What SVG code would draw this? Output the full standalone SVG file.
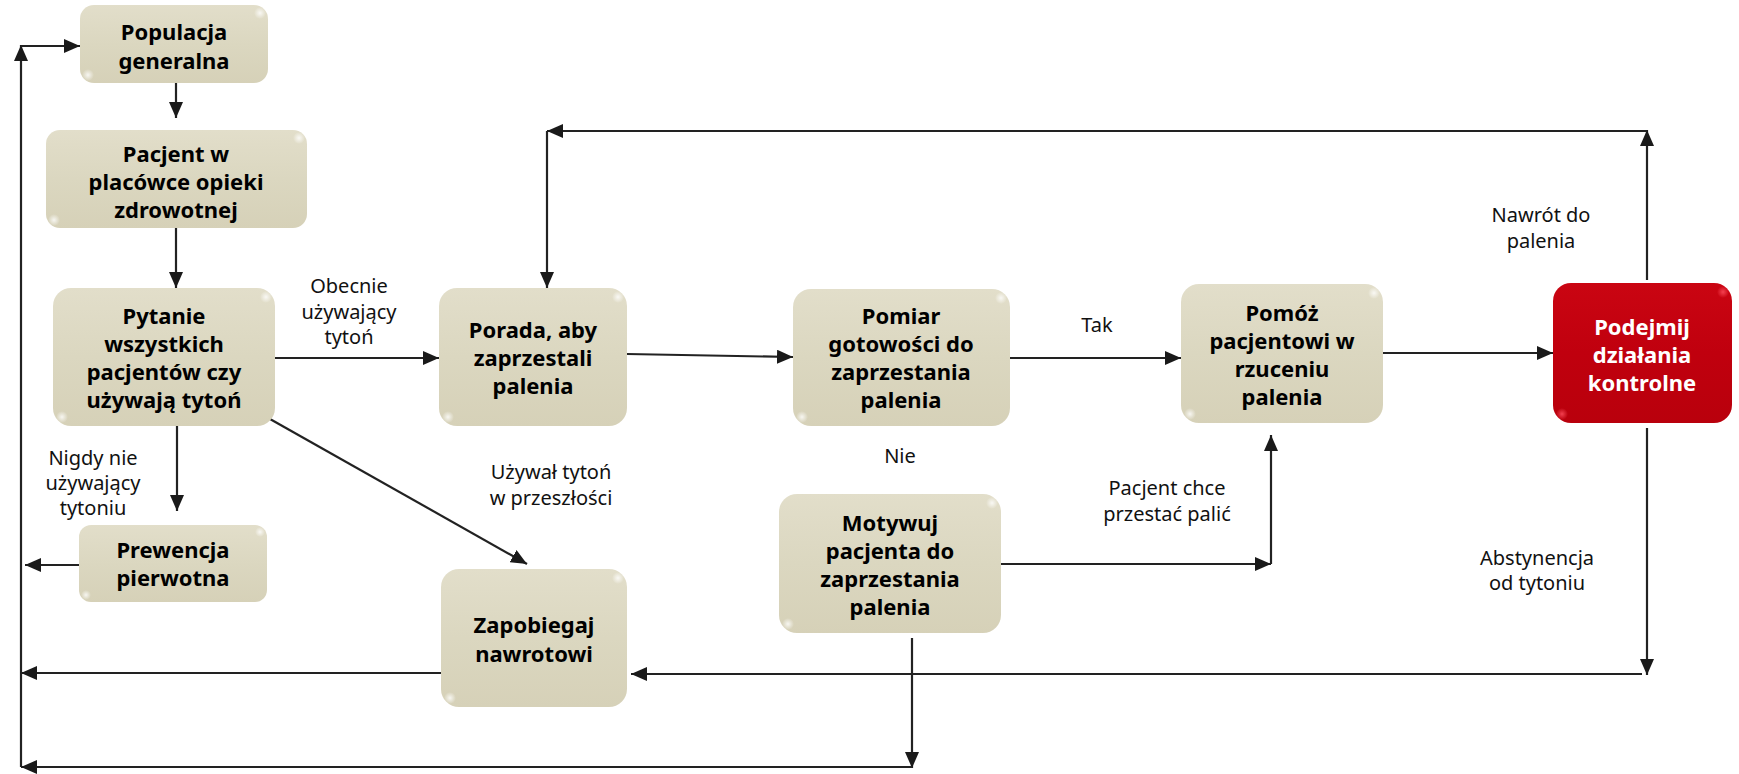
<svg xmlns="http://www.w3.org/2000/svg" width="1739" height="774" viewBox="0 0 1739 774">
<style>
.bx{fill:url(#beige);}
.rd{fill:url(#red);}
.hl{fill:url(#glow);}
.hr{fill:url(#glowr);}
.t{font-family:"Noto Sans","Open Sans",sans-serif;font-weight:bold;font-size:22px;fill:#000;text-anchor:middle;}
.tw{fill:#fff;}
.lb{font-family:"Noto Sans","Open Sans",sans-serif;font-size:20px;fill:#111;text-anchor:middle;}
.c line,.c polyline{stroke:#222;stroke-width:2.2;fill:none;}
.a{marker-end:url(#ah);}
</style>
<defs>
<linearGradient id="beige" x1="0" y1="0" x2="0" y2="1">
<stop offset="0" stop-color="#E2DECA"/>
<stop offset="0.5" stop-color="#DBD7C0"/>
<stop offset="1" stop-color="#D6D1B8"/>
</linearGradient>
<linearGradient id="red" x1="0" y1="0" x2="0" y2="1">
<stop offset="0" stop-color="#CA0512"/>
<stop offset="0.5" stop-color="#C0000E"/>
<stop offset="1" stop-color="#B9000C"/>
</linearGradient>
<radialGradient id="glow">
<stop offset="0" stop-color="#FFFFFF" stop-opacity="0.8"/>
<stop offset="1" stop-color="#FFFFFF" stop-opacity="0"/>
</radialGradient>
<radialGradient id="glowr">
<stop offset="0" stop-color="#FF5060" stop-opacity="0.8"/>
<stop offset="1" stop-color="#FF5060" stop-opacity="0"/>
</radialGradient>
<marker id="ah" markerUnits="userSpaceOnUse" markerWidth="16" markerHeight="14" refX="16" refY="7" orient="auto">
<path d="M0,0 L16,7 L0,14 z" fill="#1a1a1a"/>
</marker>
</defs>

<g id="connectors" class="c">
<line class="a" x1="176" y1="83" x2="176" y2="118"/>
<line class="a" x1="176" y1="228" x2="176" y2="288"/>
<line class="a" x1="275" y1="358" x2="439" y2="358"/>
<line class="a" x1="177" y1="426" x2="177" y2="511"/>
<line class="a" x1="270" y1="419" x2="527" y2="564"/>
<line class="a" x1="79" y1="565" x2="25" y2="565"/>
<line class="a" x1="627" y1="354" x2="793" y2="357"/>
<line class="a" x1="1010" y1="358" x2="1181" y2="358"/>
<line class="a" x1="1383" y1="353" x2="1553" y2="353"/>
<line class="a" x1="1647" y1="280" x2="1647" y2="130"/>
<line class="a" x1="1647" y1="131" x2="547" y2="131"/>
<line class="a" x1="547" y1="131" x2="547" y2="288"/>
<line class="a" x1="1647" y1="428" x2="1647" y2="675"/>
<line class="a" x1="1642" y1="674" x2="631" y2="674"/>
<line class="a" x1="441" y1="673" x2="21" y2="673"/>
<line class="a" x1="1001" y1="564" x2="1271" y2="564"/>
<line class="a" x1="1271" y1="564" x2="1271" y2="435"/>
<line class="a" x1="912" y1="638" x2="912" y2="768"/>
<line class="a" x1="912" y1="767" x2="21" y2="767"/>
<line class="a" x1="21" y1="767" x2="21" y2="45"/>
<line class="a" x1="21" y1="46" x2="80" y2="46"/>
</g>

<g id="populacja">
<rect class="bx" x="80" y="5" width="188" height="78" rx="14"/>
<circle class="hl" cx="260" cy="13" r="6"/><circle class="hl" cx="88" cy="75" r="6"/>
<text class="t"><tspan x="174" y="40">Populacja</tspan><tspan x="174" y="69">generalna</tspan></text>
</g>

<g id="pacjent">
<rect class="bx" x="46" y="130" width="261" height="98" rx="14"/>
<circle class="hl" cx="299" cy="138" r="6"/><circle class="hl" cx="54" cy="220" r="6"/>
<text class="t"><tspan x="176" y="162">Pacjent w</tspan><tspan x="176" y="190">placówce opieki</tspan><tspan x="176" y="218">zdrowotnej</tspan></text>
</g>

<g id="pytanie">
<rect class="bx" x="53" y="288" width="222" height="138" rx="18"/>
<circle class="hl" cx="266" cy="297" r="6"/><circle class="hl" cx="62" cy="417" r="6"/>
<text class="t"><tspan x="164" y="324">Pytanie</tspan><tspan x="164" y="352">wszystkich</tspan><tspan x="164" y="380">pacjentów czy</tspan><tspan x="164" y="408">używają tytoń</tspan></text>
</g>

<g id="prewencja">
<rect class="bx" x="79" y="525" width="188" height="77" rx="12"/>
<circle class="hl" cx="260" cy="532" r="5"/><circle class="hl" cx="86" cy="595" r="5"/>
<text class="t"><tspan x="173" y="558">Prewencja</tspan><tspan x="173" y="586">pierwotna</tspan></text>
</g>

<g id="porada">
<rect class="bx" x="439" y="288" width="188" height="138" rx="18"/>
<circle class="hl" cx="618" cy="297" r="6"/><circle class="hl" cx="448" cy="417" r="6"/>
<text class="t"><tspan x="533" y="338">Porada, aby</tspan><tspan x="533" y="366">zaprzestali</tspan><tspan x="533" y="394">palenia</tspan></text>
</g>

<g id="zapobiegaj">
<rect class="bx" x="441" y="569" width="186" height="138" rx="18"/>
<circle class="hl" cx="618" cy="578" r="6"/><circle class="hl" cx="450" cy="698" r="6"/>
<text class="t"><tspan x="534" y="633">Zapobiegaj</tspan><tspan x="534" y="662">nawrotowi</tspan></text>
</g>

<g id="pomiar">
<rect class="bx" x="793" y="289" width="217" height="137" rx="18"/>
<circle class="hl" cx="1001" cy="298" r="6"/><circle class="hl" cx="802" cy="417" r="6"/>
<text class="t"><tspan x="901" y="324">Pomiar</tspan><tspan x="901" y="352">gotowości do</tspan><tspan x="901" y="380">zaprzestania</tspan><tspan x="901" y="408">palenia</tspan></text>
</g>

<g id="motywuj">
<rect class="bx" x="779" y="494" width="222" height="139" rx="18"/>
<circle class="hl" cx="992" cy="503" r="6"/><circle class="hl" cx="788" cy="624" r="6"/>
<text class="t"><tspan x="890" y="531">Motywuj</tspan><tspan x="890" y="559">pacjenta do</tspan><tspan x="890" y="587">zaprzestania</tspan><tspan x="890" y="615">palenia</tspan></text>
</g>

<g id="pomoz">
<rect class="bx" x="1181" y="284" width="202" height="139" rx="18"/>
<circle class="hl" cx="1374" cy="293" r="6"/><circle class="hl" cx="1190" cy="414" r="6"/>
<text class="t"><tspan x="1282" y="321">Pomóż</tspan><tspan x="1282" y="349">pacjentowi w</tspan><tspan x="1282" y="377">rzuceniu</tspan><tspan x="1282" y="405">palenia</tspan></text>
</g>

<g id="podejmij">
<rect class="rd" x="1553" y="283" width="179" height="140" rx="18"/>
<circle class="hr" cx="1723" cy="292" r="6"/><circle class="hr" cx="1562" cy="414" r="6"/>
<text class="t tw"><tspan x="1642" y="335">Podejmij</tspan><tspan x="1642" y="363">działania</tspan><tspan x="1642" y="391">kontrolne</tspan></text>
</g>

<g id="labels">
<text class="lb"><tspan x="349" y="293">Obecnie</tspan><tspan x="349" y="319">używający</tspan><tspan x="349" y="344">tytoń</tspan></text>
<text class="lb"><tspan x="93" y="465">Nigdy nie</tspan><tspan x="93" y="490">używający</tspan><tspan x="93" y="515">tytoniu</tspan></text>
<text class="lb"><tspan x="551" y="479">Używał tytoń</tspan><tspan x="551" y="505">w przeszłości</tspan></text>
<text class="lb"><tspan x="1097" y="332">Tak</tspan></text>
<text class="lb"><tspan x="900" y="463">Nie</tspan></text>
<text class="lb"><tspan x="1167" y="495">Pacjent chce</tspan><tspan x="1167" y="521">przestać palić</tspan></text>
<text class="lb"><tspan x="1541" y="222">Nawrót do</tspan><tspan x="1541" y="248">palenia</tspan></text>
<text class="lb"><tspan x="1537" y="565">Abstynencja</tspan><tspan x="1537" y="590">od tytoniu</tspan></text>
</g>
</svg>
